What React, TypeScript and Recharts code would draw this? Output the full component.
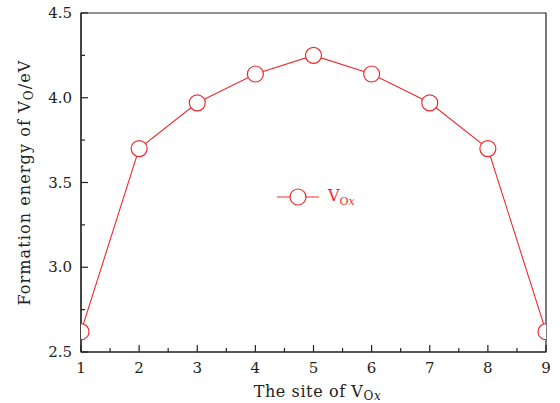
import React from "react";
import { LineChart, Line, XAxis, YAxis, Legend, ReferenceArea } from "recharts";

const sites = [1, 2, 3, 4, 5, 6, 7, 8, 9];
const formationEnergy = [2.62, 3.7, 3.97, 4.14, 4.25, 4.14, 3.97, 3.7, 2.62];
const xTicks = [1, 1.5, 2, 2.5, 3, 3.5, 4, 4.5, 5, 5.5, 6, 6.5, 7, 7.5, 8, 8.5, 9];
const yTicks = [2.5, 2.75, 3.0, 3.25, 3.5, 3.75, 4.0, 4.25, 4.5];
const xMajor = [1, 2, 3, 4, 5, 6, 7, 8, 9];
const yMajor = [2.5, 3.0, 3.5, 4.0, 4.5];

const data = sites.map((s, i) => ({ site: s, energy: formationEnergy[i] }));

const RED = "#ee2a2f";
const FONT = "'DejaVu Serif', 'Liberation Serif', serif";

function XTick(props: any) {
  const { x, y, payload } = props;
  const major = xMajor.includes(payload.value);
  return (
    <g>
      <line x1={x} x2={x} y1={y} y2={y - (major ? 7 : 4)} stroke="#222" strokeWidth={1.2} />
      {major && (
        <text x={x} y={y + 21} textAnchor="middle" fontFamily={FONT} fontSize={15} fill="#222">
          {payload.value}
        </text>
      )}
    </g>
  );
}

function YTick(props: any) {
  const { x, y, payload } = props;
  const major = yMajor.includes(payload.value);
  return (
    <g>
      <line x1={x} x2={x + (major ? 7 : 4)} y1={y} y2={y} stroke="#222" strokeWidth={1.2} />
      {major && (
        <text x={x - 9} y={y + 5} textAnchor="end" fontFamily={FONT} fontSize={15} fill="#222">
          {payload.value.toFixed(1)}
        </text>
      )}
    </g>
  );
}

function XLabel(props: any) {
  const { viewBox } = props;
  const cx = viewBox.x + viewBox.width / 2 + 4;
  return (
    <text x={cx} y={viewBox.y + 45} textAnchor="middle" fontFamily={FONT} fontSize={16} letterSpacing={0.6} fill="#222">
      The site of V
      <tspan fontSize={12} dy={3}>O</tspan>
      <tspan fontSize={12} fontStyle="italic">x</tspan>
    </text>
  );
}

function YLabel(props: any) {
  const { viewBox } = props;
  const cy = viewBox.y + viewBox.height / 2;
  return (
    <text
      x={30}
      y={cy}
      transform={`rotate(-90 30 ${cy})`}
      textAnchor="middle"
      fontFamily={FONT}
      fontSize={16}
      letterSpacing={1.1}
      fill="#222"
    >
      Formation energy of V
      <tspan fontSize={12} dy={3}>O</tspan>
      <tspan dy={-3}>/eV</tspan>
    </text>
  );
}

function LegendBox() {
  return (
    <div style={{ display: "flex", alignItems: "center", fontFamily: FONT, color: RED }}>
      <svg width={44} height={20}>
        <line x1={1} x2={43} y1={10} y2={10} stroke={RED} strokeWidth={1.2} />
        <circle cx={22} cy={10} r={8} fill="#fff" stroke={RED} strokeWidth={1.2} />
      </svg>
      <span style={{ fontSize: 16, marginLeft: 8 }}>
        V<sub style={{ fontSize: 11 }}>O<i>x</i></sub>
      </span>
    </div>
  );
}

export default function App() {
  return (
    <div style={{ position: "absolute", left: 0, top: 0, width: 560, height: 403, background: "#fff" }}>
      <LineChart width={560} height={403} data={data} margin={{ top: 13, right: 14, left: 0, bottom: 0 }}>
        <XAxis
          dataKey="site"
          type="number"
          domain={[1, 9]}
          ticks={xTicks}
          allowDataOverflow
          interval={0}
          height={51}
          tickSize={0}
          tickMargin={0}
          tickLine={false}
          tick={<XTick />}
          axisLine={{ stroke: "#222", strokeWidth: 1.2 }}
          label={<XLabel />}
        />
        <YAxis
          type="number"
          domain={[2.5, 4.5]}
          ticks={yTicks}
          allowDataOverflow
          interval={0}
          width={81}
          tickSize={0}
          tickMargin={0}
          tickLine={false}
          tick={<YTick />}
          axisLine={{ stroke: "#222", strokeWidth: 1.2 }}
          label={<YLabel />}
        />
        <ReferenceArea x1={1} x2={9} y1={2.5} y2={4.5} fill="none" stroke="#222" strokeWidth={1.2} ifOverflow="visible" />
        <Legend
          content={<LegendBox />}
          layout="horizontal"
          verticalAlign="middle"
          align="center"
          wrapperStyle={{ left: 276, top: 186, width: 120 }}
        />
        <Line
          dataKey="energy"
          stroke={RED}
          strokeWidth={1.1}
          isAnimationActive={false}
          dot={{ r: 8, fill: "#fff", stroke: RED, strokeWidth: 1.2 }}
          activeDot={false}
        />
      </LineChart>
    </div>
  );
}
